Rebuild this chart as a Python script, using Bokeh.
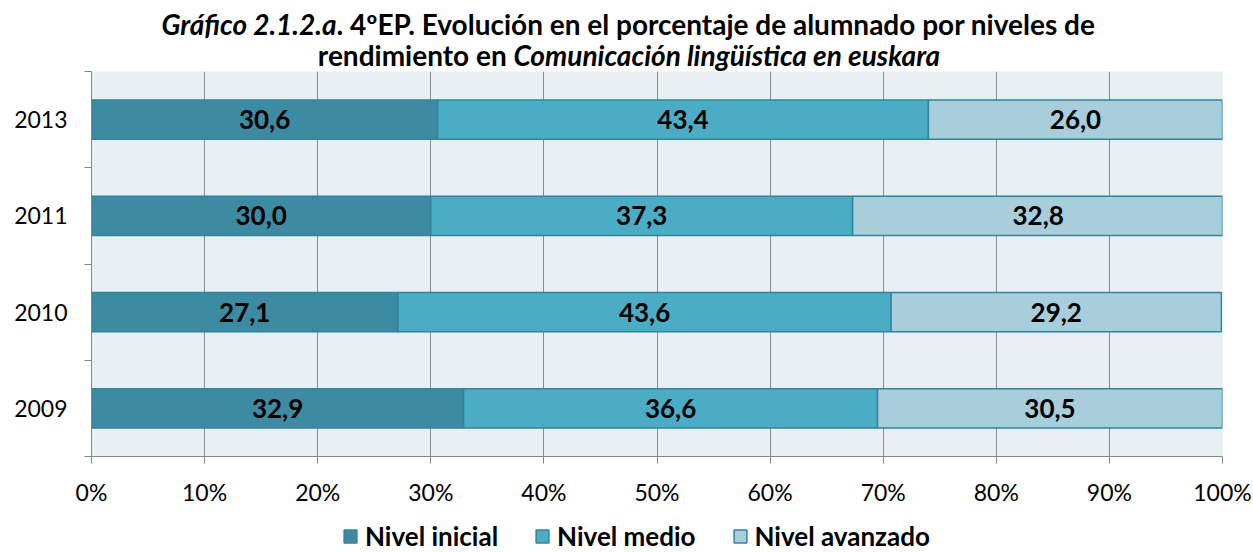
from bokeh.plotting import figure
from bokeh.layouts import column
from bokeh.models import (ColumnDataSource, FixedTicker, Legend, LegendItem,
                          Range1d, PrintfTickFormatter)
from bokeh.embed import file_html
from bokeh.resources import INLINE
from bokeh.core.properties import value

# ---------------- data ----------------
years = ["2009", "2010", "2011", "2013"]
nivel_inicial = [32.9, 27.1, 30.0, 30.6]
nivel_medio = [36.6, 43.6, 37.3, 43.4]
nivel_avanzado = [30.5, 29.2, 32.8, 26.0]
series_names = ["Nivel inicial", "Nivel medio", "Nivel avanzado"]
x_ticks = [0, 10, 20, 30, 40, 50, 60, 70, 80, 90, 100]

title_l1 = ["Gráfico 2.1.2.a", ". 4ºEP. Evolución en el porcentaje de alumnado por niveles de"]
title_l2 = ["rendimiento en ", "Comunicación lingüística en euskara"]

# ---------------- style ----------------
colors = ["#3C8BA2", "#4BACC6", "#A8CEDC"]
edge = "#31849B"
axis_col = "#868686"
FONT = "Lato"
W = 1253
TITLE_H = 71
MAIN_H = 437
LEG_H = 44
FRAME_L, FRAME_R = 91, 1222   # frame edges (shared by the stacked figures)

# ---------------- title strip ----------------
t = figure(width=W, height=TITLE_H, output_backend="svg", toolbar_location=None,
           x_range=Range1d(FRAME_L, FRAME_R), y_range=Range1d(TITLE_H, 0),
           min_border=0, x_axis_location=None, y_axis_location=None)
t.grid.visible = False
t.outline_line_color = None
t.background_fill_color = "white"
t.border_fill_color = "white"
split1, split2 = 336, 513
base1, base2 = 23, 54
for txt, x, y, align, style in [
        (title_l1[0], split1, base1, "right", "bold italic"),
        (title_l1[1], split1, base1, "left", "bold"),
        (title_l2[0], split2, base2, "right", "bold"),
        (title_l2[1], split2, base2, "left", "bold italic")]:
    t.text(x=[x], y=[y], text=[txt], text_align=align, text_font_style=style,
           text_baseline="alphabetic", text_font=value(FONT), text_font_size="28px",
           text_color="black")

# ---------------- main chart ----------------
p = figure(width=W, height=MAIN_H, output_backend="svg", toolbar_location=None,
           x_range=Range1d(0, 100), y_range=Range1d(0, len(years)),
           min_border_left=FRAME_L, min_border_right=W - FRAME_R, min_border_top=0,
           min_border_bottom=47)
p.background_fill_color = "#E8EFF2"
p.border_fill_color = "white"
p.outline_line_color = None

n = len(years)
ys = [i + 0.5 for i in range(n)]
series = [nivel_inicial, nivel_medio, nivel_avanzado]
sources = []
left = [0.0] * n
for name, vals, col in zip(series_names, series, colors):
    right = [l + v for l, v in zip(left, vals)]
    src = ColumnDataSource(dict(
        y=ys, left=left, right=right,
        mid=[(l + r) / 2 for l, r in zip(left, right)],
        lab=[f"{v:.1f}".replace(".", ",") for v in vals]))
    sources.append(src)
    p.hbar(y="y", left="left", right="right", height=0.41, fill_color=col,
           line_color=edge, line_width=1.5, source=src)
    p.text(x="mid", y="y", text="lab", text_align="center", text_baseline="middle",
           text_font=value(FONT), text_font_style="bold", text_font_size="26px",
           text_color="black", source=src)
    left = right

p.xaxis.ticker = FixedTicker(ticks=x_ticks)
p.xaxis.formatter = PrintfTickFormatter(format="%d%%")
p.xaxis.major_tick_out = 7
p.xaxis.major_tick_in = 0
p.xaxis.axis_line_color = axis_col
p.xaxis.major_tick_line_color = axis_col
p.xaxis.major_label_text_font = FONT
p.xaxis.major_label_text_font_size = "23px"
p.xaxis.major_label_text_color = "black"
p.xaxis.major_label_standoff = 14

p.yaxis.ticker = FixedTicker(ticks=ys, minor_ticks=list(range(n + 1)))
p.yaxis.major_label_overrides = {y: yr for y, yr in zip(ys, years)}
p.yaxis.major_tick_out = 0
p.yaxis.major_tick_in = 0
p.yaxis.minor_tick_out = 7
p.yaxis.minor_tick_in = 0
p.yaxis.minor_tick_line_color = axis_col
p.yaxis.axis_line_color = axis_col
p.yaxis.major_label_text_font = FONT
p.yaxis.major_label_text_font_size = "23px"
p.yaxis.major_label_text_color = "black"
p.yaxis.major_label_standoff = 17

p.xgrid.grid_line_color = "#8C8C8C"
p.ygrid.grid_line_color = None

# ---------------- legend strip ----------------
# legend renderers reuse the series sources but are hidden; only their swatches show
lg = figure(width=W, height=LEG_H, output_backend="svg", toolbar_location=None,
            x_range=Range1d(5000, 5000 + FRAME_R - FRAME_L),
            y_range=Range1d(5000, 5000 + LEG_H),
            min_border=0, x_axis_location=None, y_axis_location=None)
lg.grid.visible = False
lg.outline_line_color = None
lg.background_fill_color = "white"
lg.border_fill_color = "white"
items = []
for name, col, src in zip(series_names, colors, sources):
    r = lg.hbar(y="y", left="left", right="right", height=0.41, fill_color=col,
                line_color=edge, line_width=1.5, source=src, visible=False)
    items.append(LegendItem(label=name, renderers=[r]))
legend = Legend(items=items, orientation="horizontal", location=(342 - FRAME_L, 0))
legend.label_text_font = FONT
legend.label_text_font_style = "bold"
legend.label_text_font_size = "26px"
legend.label_text_color = "black"
legend.glyph_width = 16
legend.glyph_height = 16
legend.spacing = 36
legend.label_standoff = 7
legend.padding = 0
legend.margin = 0
legend.border_line_color = None
legend.background_fill_alpha = 0
lg.add_layout(legend, "center")

layout = column(t, p, lg, spacing=0)
open("out.html", "w").write(file_html(layout, INLINE))
